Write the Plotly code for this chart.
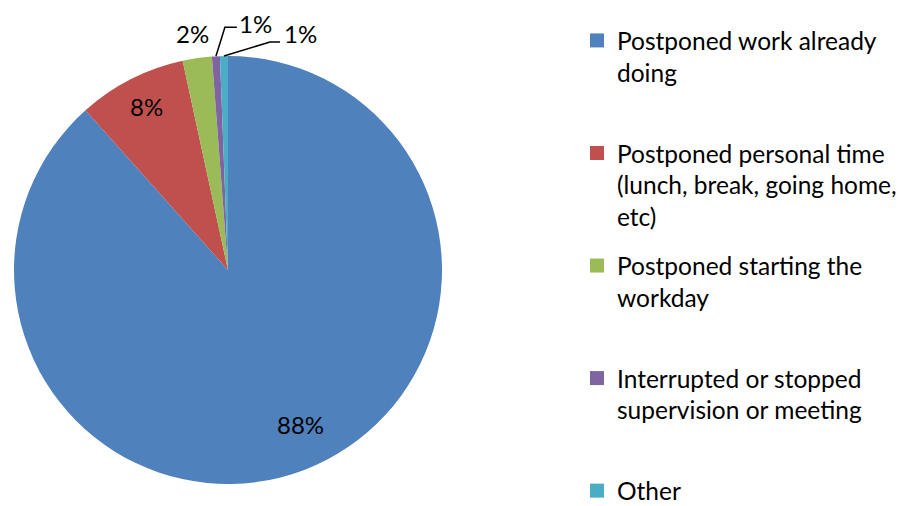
import math
import plotly.graph_objects as go

# ---- data ----
categories = [
    "Postponed work already doing",
    "Postponed personal time (lunch, break, going home, etc)",
    "Postponed starting the workday",
    "Interrupted or stopped supervision or meeting",
    "Other",
]
legend_lines = [
    ["Postponed work already", "doing"],
    ["Postponed personal time", "(lunch, break, going home,", "etc)"],
    ["Postponed starting the", "workday"],
    ["Interrupted or stopped", "supervision or meeting"],
    ["Other"],
]
values = [88.4, 8.2, 2.2, 0.6, 0.6]
colors = ["#4F81BD", "#C0504D", "#9BBB59", "#8064A2", "#4BACC6"]

W, H = 911, 506
OFF = 8                      # page body margin of the exported html
CX, CY, R = 228, 270, 214    # pie centre / radius (page px)
FONT = "Lato, 'Open Sans', sans-serif"
LEG_FS = 24.5
LBL_FS = 24


def px2paper(x, y):
    """page pixel -> paper coords of the figure"""
    return (x - OFF) / W, 1 - (y - OFF) / H


total = sum(values)
pcts = [v / total for v in values]
labels_txt = [f"{round(p * 100):.0f}%" for p in pcts]

fig = go.Figure()
x0p, y1p = px2paper(CX - R, CY - R)
x1p, y0p = px2paper(CX + R, CY + R)
fig.add_trace(go.Pie(
    labels=categories,
    values=values,
    sort=False,
    direction="clockwise",
    rotation=0,
    marker=dict(colors=colors, line=dict(width=0)),
    textinfo="none",
    hoverinfo="label+percent",
    domain=dict(x=[x0p, x1p], y=[y0p, y1p]),
    showlegend=False,
))

# legend entries (one per category), padded to equal height
max_lines = 3
for i, cat in enumerate(categories):
    lines = list(legend_lines[i])
    if i < len(categories) - 1:
        lines += ["\u00a0"] * (max_lines - len(lines))
    fig.add_trace(go.Scatter(
        x=[None], y=[None], mode="markers",
        marker=dict(symbol="square", size=14, color=colors[i]),
        name="<br>".join(lines),
        legendgroup=f"g{i}",
        hoverinfo="skip",
    ))

# slice angle helpers (clockwise from 12 o'clock)
cum = 0
mids = []
for p in pcts:
    mids.append((cum + p / 2) * 2 * math.pi)
    cum += p


def polar(theta, k):
    return CX + k * R * math.sin(theta), CY - k * R * math.cos(theta)


annotations = []
shapes = []
# radial factor and small pixel nudge per label (style)
label_pos = [(0.80, 11, -5), (0.85, 1, -1), (1.11, -1, -1), None, None]
for i, lp in enumerate(label_pos):
    if lp is None:
        continue
    k, dx, dy = lp
    x, y = polar(mids[i], k)
    xp, yp = px2paper(x + dx, y + dy)
    annotations.append(dict(x=xp, y=yp, xref="paper", yref="paper", text=labels_txt[i],
                            showarrow=False, xanchor="center", yanchor="middle",
                            font=dict(family=FONT, size=LBL_FS, color="black")))

leader_style = {
    3: dict(elbow=(9, -29), end=(21, -29), label=(40, -33)),
    4: dict(elbow=(46, -14), end=(56, -14), label=(77, -23)),
}
for i, st in leader_style.items():
    xa, ya = polar(mids[i], 1.0)
    pts = [(xa, ya), (xa + st["elbow"][0], ya + st["elbow"][1]), (xa + st["end"][0], ya + st["end"][1])]
    pp = [px2paper(*p) for p in pts]
    path = "M {} {} L {} {} L {} {}".format(pp[0][0], pp[0][1], pp[1][0], pp[1][1], pp[2][0], pp[2][1])
    shapes.append(dict(type="path", path=path, xref="paper", yref="paper",
                       line=dict(color="black", width=1.5)))
    lx, ly = px2paper(xa + st["label"][0], ya + st["label"][1])
    annotations.append(dict(x=lx, y=ly, xref="paper", yref="paper", text=labels_txt[i],
                            showarrow=False, xanchor="center", yanchor="middle",
                            font=dict(family=FONT, size=LBL_FS, color="black")))

lgx, lgy = px2paper(577, 33)
fig.update_layout(
    width=W, height=H,
    margin=dict(l=0, r=0, t=0, b=0),
    paper_bgcolor="white",
    plot_bgcolor="white",
    xaxis=dict(visible=False),
    yaxis=dict(visible=False),
    annotations=annotations,
    shapes=shapes,
    legend=dict(
        x=lgx, xanchor="left",
        y=lgy, yanchor="top",
        valign="top",
        tracegroupgap=14,
        font=dict(family=FONT, size=LEG_FS, color="black"),
        bgcolor="rgba(0,0,0,0)",
    ),
    font=dict(family=FONT),
)

fig.write_html("out.html")
